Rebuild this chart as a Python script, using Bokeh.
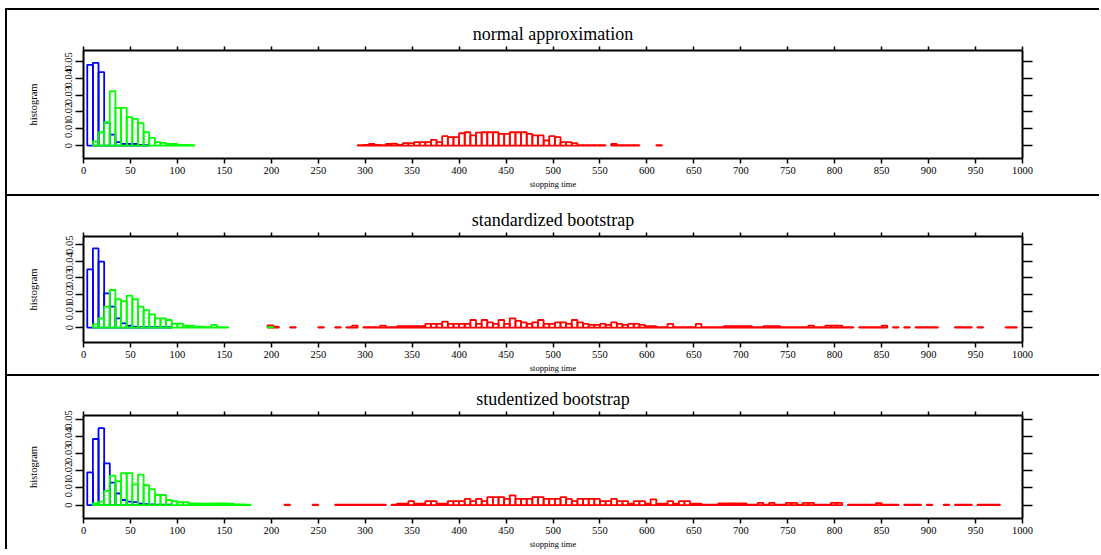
from bokeh.plotting import figure
from bokeh.models import LinearAxis, FixedTicker, NumeralTickFormatter, Range1d, CustomJSTickFormatter
from bokeh.layouts import column
from bokeh.embed import file_html
from bokeh.resources import INLINE

# Histograms of the stopping time, bin width 6; each list holds consecutive bin heights
# starting at the given left edge (0 = empty bin, not drawn).
bin_width = 6

titles = ["normal approximation", "standardized bootstrap", "studentized bootstrap"]
x_ticks = list(range(0, 1001, 50))
y_ticks = [0, 0.01, 0.02, 0.03, 0.04, 0.05]

# --- normal approximation ---
normal_blue_start = 4
normal_blue = [0.048, 0.0492, 0.0437, 0.0136, 0.0065, 0.002, 0.001, 0.001, 0.001,
               0.0004, 0.0003]
normal_green_start = 10
normal_green = [0.0024, 0.0079, 0.0139, 0.0323, 0.0224, 0.0224, 0.0169, 0.0159, 0.0133,
                0.0079, 0.0046, 0.002, 0.0016, 0.001, 0.001, 0.0004, 0.0004, 0.0003]
normal_red_start = 292
normal_red = [0.0003, 0.0004, 0.001, 0.0004, 0.0003, 0.001, 0.0012, 0.0004, 0.0014, 0.0014,
              0.002, 0.002, 0.002, 0.0034, 0.002, 0.0056, 0.005, 0.005, 0.0073, 0.0079,
              0.006, 0.0077, 0.0079, 0.0079, 0.0079, 0.0069, 0.0069, 0.0079, 0.0079, 0.0079,
              0.0069, 0.006, 0.006, 0.003, 0.0056, 0.005, 0.002, 0.002, 0.0014, 0.0003,
              0.0003, 0.0003, 0.0003, 0.0003, 0, 0.001, 0.0003, 0.0003, 0.0003, 0.0003,
              0, 0, 0, 0.0003]

# --- standardized bootstrap ---
standard_blue_start = 4
standard_blue = [0.0351, 0.0478, 0.0398, 0.0207, 0.0127, 0.0056, 0.0026, 0.0012, 0.0006,
                 0.0003, 0.0003, 0.0003, 0.0003, 0.0003, 0.0003]
standard_green_start = 10
standard_green = [0.002, 0.0056, 0.0127, 0.0227, 0.0171, 0.016, 0.0193, 0.0171, 0.0127,
                  0.0106, 0.008, 0.0056, 0.0056, 0.0046, 0.0024, 0.0024, 0.0012, 0.0012,
                  0.0006, 0.0006, 0.0003, 0.0016, 0.0003, 0.0003, 0, 0, 0, 0, 0, 0, 0,
                  0.0003]
standard_red_start = 196
standard_red = [0.0014, 0.0006, 0, 0, 0.0003, 0, 0, 0, 0, 0.0003, 0, 0, 0.0003, 0, 0.0003,
                0.0012, 0, 0.0003, 0.0003, 0.0003, 0.0012, 0.0003, 0.0003, 0.0008, 0.0008,
                0.0008, 0.0008, 0.0008, 0.0022, 0.0022, 0.0022, 0.0036, 0.0022, 0.0022,
                0.0022, 0.0022, 0.0046, 0.0022, 0.0046, 0.0032, 0.0022, 0.0046, 0.0022,
                0.0056, 0.004, 0.0032, 0.0022, 0.0032, 0.0046, 0.0022, 0.0022, 0.0032,
                0.0032, 0.0022, 0.0046, 0.0032, 0.0022, 0.0016, 0.0016, 0.0022, 0.0016,
                0.0032, 0.0022, 0.0016, 0.0022, 0.0022, 0.0016, 0.0008, 0.0008, 0.0003,
                0.0003, 0.0022, 0.0003, 0.0003, 0.0003, 0.0003, 0.0022, 0.0003, 0.0003,
                0.0003, 0.0003, 0.0008, 0.0008, 0.0008, 0.0008, 0.0008, 0.0003, 0.0003,
                0.0008, 0.0008, 0.0008, 0.0003, 0.0003, 0.0003, 0.0003, 0.0003, 0.0012,
                0.0003, 0.0003, 0.0012, 0.0012, 0.0012, 0.0003, 0.0003, 0, 0.0003, 0.0003,
                0.0003, 0.0003, 0.0012, 0, 0.0003, 0, 0.0003, 0, 0.0003, 0.0003, 0.0003,
                0.0003, 0, 0, 0, 0.0003, 0.0003, 0.0003, 0, 0.0003, 0, 0, 0, 0, 0.0003,
                0.0003]

# --- studentized bootstrap ---
student_blue_start = 4
student_blue = [0.0191, 0.0386, 0.0449, 0.0244, 0.0131, 0.0068, 0.003, 0.0021, 0.0017,
                0.0008, 0.0006, 0.0004, 0.0003, 0.0003, 0.0003]
student_green_start = 10
student_green = [0.001, 0.002, 0.0083, 0.0172, 0.014, 0.0187, 0.0187, 0.0121, 0.0178,
                 0.0116, 0.0093, 0.0059, 0.0059, 0.003, 0.0023, 0.0017, 0.0017, 0.001,
                 0.001, 0.0008, 0.0008, 0.001, 0.001, 0.001, 0.0008, 0.0004, 0.0004, 0.0003]
student_red_start = 214
student_red = [0.0003, 0, 0, 0, 0, 0.0003, 0, 0, 0, 0.0003, 0.0003, 0.0003, 0.0003, 0.0003,
               0.0003, 0.0003, 0.0003, 0.0003, 0, 0.0003, 0.0009, 0.0009, 0.0023, 0.0009,
               0.0009, 0.0023, 0.0023, 0.0009, 0.0009, 0.0023, 0.0023, 0.0023, 0.0036,
               0.0023, 0.0036, 0.0023, 0.0047, 0.0047, 0.0047, 0.0036, 0.0057, 0.0036,
               0.0036, 0.0036, 0.0047, 0.0047, 0.0036, 0.0036, 0.0036, 0.0047, 0.0036,
               0.0023, 0.0036, 0.0036, 0.0036, 0.0036, 0.0023, 0.0023, 0.0036, 0.0023,
               0.0023, 0.0009, 0.0023, 0.0023, 0.0009, 0.0034, 0.0009, 0.0009, 0.0023,
               0.0009, 0.0023, 0.0023, 0.0009, 0.0009, 0.0003, 0.0003, 0.0003, 0.001, 0.001,
               0.001, 0.001, 0.001, 0.0003, 0.0003, 0.0013, 0.0003, 0.0013, 0.0003, 0.0003,
               0.0013, 0.0013, 0.0003, 0.0013, 0.0013, 0.0003, 0.0003, 0.0003, 0.0013,
               0.0013, 0, 0.0003, 0.0003, 0.0003, 0.0003, 0.0003, 0.0012, 0.0003, 0.0003,
               0.0003, 0, 0.0003, 0.0003, 0.0003, 0, 0.0003, 0, 0, 0.0003, 0, 0.0003,
               0.0003, 0.0003, 0, 0.0003, 0.0003, 0.0003, 0.0003]

panels = [
    dict(series=[(normal_red_start, normal_red, "#ff0000"),
                 (normal_blue_start, normal_blue, "#0000ff"),
                 (normal_green_start, normal_green, "#00ff00")],
         y_range=(-0.0077, 0.0565), height=186, frame_h=108, top=40),
    dict(series=[(standard_red_start, standard_red, "#ff0000"),
                 (standard_blue_start, standard_blue, "#0000ff"),
                 (standard_green_start, standard_green, "#00ff00")],
         y_range=(-0.009, 0.055), height=180, frame_h=106, top=40),
    dict(series=[(student_red_start, student_red, "#ff0000"),
                 (student_blue_start, student_blue, "#0000ff"),
                 (student_green_start, student_green, "#00ff00")],
         y_range=(-0.0078, 0.0523), height=175, frame_h=106, top=39),
]

FONT = "Liberation Serif"
LEFT = 76
FRAME_W = 939
FULL_W = 1094

# the mirrored top/right axes carry tick marks only
blank = CustomJSTickFormatter(code="return ''")

figs = []
for title, cfg in zip(titles, panels):
    bottom = cfg["height"] - cfg["top"] - cfg["frame_h"]
    p = figure(width=FULL_W, height=cfg["height"], output_backend="svg",
               toolbar_location=None, x_range=Range1d(0, 1000),
               y_range=Range1d(*cfg["y_range"]),
               min_border_left=LEFT, min_border_right=FULL_W - LEFT - FRAME_W,
               min_border_top=cfg["top"], min_border_bottom=bottom,
               x_axis_location=None, y_axis_location=None,
               styles={"border-top": "2px solid black", "border-left": "2px solid black"})
    p.title.text = title
    p.title.text_font = FONT
    p.title.text_font_size = "18px"
    p.title.text_font_style = "normal"
    p.title.text_color = "black"
    p.title.align = "center"
    p.title.standoff = 6
    p.outline_line_color = None
    p.xgrid.visible = False
    p.ygrid.visible = False
    p.background_fill_color = "white"
    p.border_fill_color = "white"

    xb = LinearAxis(ticker=FixedTicker(ticks=x_ticks), axis_label="stopping time")
    xt = LinearAxis(ticker=FixedTicker(ticks=x_ticks), formatter=blank)
    yl = LinearAxis(ticker=FixedTicker(ticks=y_ticks), axis_label="histogram",
                    formatter=NumeralTickFormatter(format="0.[00]"))
    yr = LinearAxis(ticker=FixedTicker(ticks=y_ticks), formatter=blank)
    for ax in (xb, xt, yl, yr):
        ax.axis_line_width = 2
        ax.axis_line_color = "black"
        ax.major_tick_line_width = 1.5
        ax.major_tick_in = 0
        ax.minor_tick_in = 0
        ax.minor_tick_out = 0
        ax.major_label_text_font = FONT
        ax.major_label_text_font_size = "10.5px"
        ax.major_label_text_color = "black"
        ax.axis_label_text_font = FONT
        ax.axis_label_text_font_style = "normal"
        ax.axis_label_text_color = "black"
    xb.major_tick_out = 5
    xb.major_label_standoff = 3
    xb.axis_label_text_font_size = "8.5px"
    xb.axis_label_standoff = 2
    xt.major_tick_out = 4
    xt.major_label_standoff = 0
    yl.major_tick_out = 8
    yl.major_label_orientation = "vertical"
    yl.major_label_standoff = 3
    yl.axis_label_text_font_size = "10.5px"
    yl.axis_label_standoff = 24
    yr.major_tick_out = 10
    yr.major_label_standoff = 0
    p.add_layout(xb, "below")
    p.add_layout(xt, "above")
    p.add_layout(yl, "left")
    p.add_layout(yr, "right")

    for start, heights, color in cfg["series"]:
        left, right, top = [], [], []
        for i, h in enumerate(heights):
            if h > 0:
                left.append(start + i * bin_width)
                right.append(start + (i + 1) * bin_width)
                top.append(h)
        p.quad(left=left, right=right, bottom=0, top=top, fill_alpha=0,
               line_color=color, line_width=1.8)
    figs.append(p)

layout = column(*figs, spacing=0, margin=(8, 0, 0, 5))
open("out.html", "w").write(file_html(layout, INLINE))
